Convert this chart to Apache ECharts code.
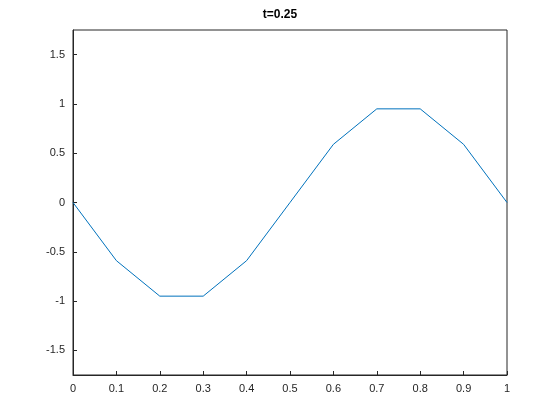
<!DOCTYPE html>
<html lang="en">
<head>
    <meta charset="UTF-8">
    <title>t=0.25</title>
    <script src="https://cdn.jsdelivr.net/npm/echarts@6/dist/echarts.min.js"></script>
    <style>
        html, body { margin: 0; padding: 0; background: #fff; }
        #chart { width: 560px; height: 420px; }
    </style>
</head>
<body>
<div id="chart"></div>
<script>
    // data
    var xData = [0, 0.1, 0.2, 0.3, 0.4, 0.5, 0.6, 0.7, 0.8, 0.9, 1];
    var yData = [0, -0.59, -0.95, -0.95, -0.59, 0, 0.59, 0.95, 0.95, 0.59, 0];
    var xTicks = [0, 0.1, 0.2, 0.3, 0.4, 0.5, 0.6, 0.7, 0.8, 0.9, 1];
    var yTicks = [-1.5, -1, -0.5, 0, 0.5, 1, 1.5];

    var chart = echarts.init(document.getElementById('chart'));
    var axisColor = '#262626';
    var font = 'Helvetica, Arial, "Liberation Sans", sans-serif';

    chart.setOption({
        animation: false,
        title: {
            text: 't=0.25',
            left: 'center',
            top: 4,
            textStyle: { fontSize: 12, fontWeight: 'bold', color: '#000', fontFamily: font }
        },
        grid: {
            left: 73, right: 53, top: 30, bottom: 45,
            show: true, borderColor: axisColor, borderWidth: 1, backgroundColor: '#fff'
        },
        xAxis: {
            type: 'value', min: 0, max: 1,
            axisLine: { onZero: false, lineStyle: { color: axisColor } },
            axisTick: { inside: true, length: 4, customValues: xTicks, lineStyle: { color: axisColor } },
            axisLabel: { customValues: xTicks, color: axisColor, fontSize: 11, fontFamily: font, margin: 8 },
            splitLine: { show: false }
        },
        yAxis: {
            type: 'value', min: -1.75, max: 1.75,
            axisLine: { show: true, onZero: false, lineStyle: { color: axisColor } },
            axisTick: { show: true, inside: true, length: 4, customValues: yTicks, lineStyle: { color: axisColor } },
            axisLabel: { customValues: yTicks, color: axisColor, fontSize: 11, fontFamily: font, margin: 8 },
            splitLine: { show: false }
        },
        series: [{
            type: 'line',
            data: xData.map(function (x, i) { return [x, yData[i]]; }),
            showSymbol: false,
            lineStyle: { color: '#0072BD', width: 1 }
        }]
    });
</script>
</body>
</html>
